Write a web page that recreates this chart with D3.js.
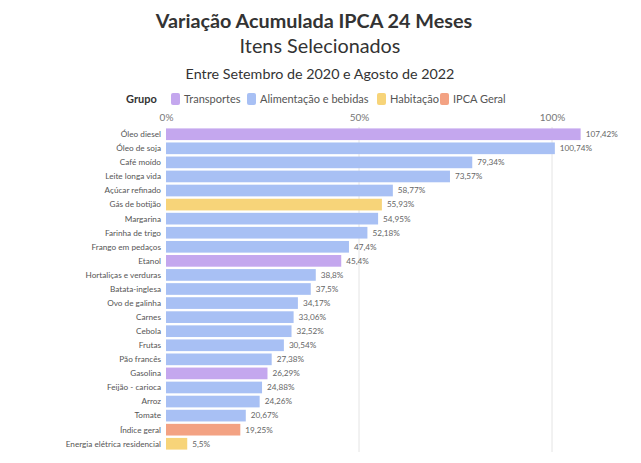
<!DOCTYPE html>
<html><head><meta charset="utf-8">
<script src="https://cdn.jsdelivr.net/npm/d3@7"></script>
<style>body{margin:0;background:#fff;font-family:Lato,"Open Sans",sans-serif}</style>
</head><body><svg id="c" width="641" height="463"></svg>
<script>
const categories = ["Óleo diesel","Óleo de soja","Café moído","Leite longa vida","Açúcar refinado","Gás de botijão","Margarina","Farinha de trigo","Frango em pedaços","Etanol","Hortaliças e verduras","Batata-inglesa","Ovo de galinha","Carnes","Cebola","Frutas","Pão francês","Gasolina","Feijão - carioca","Arroz","Tomate","Índice geral","Energia elétrica residencial"];
const values = [107.42,100.74,79.34,73.57,58.77,55.93,54.95,52.18,47.4,45.4,38.8,37.5,34.17,33.06,32.52,30.54,27.38,26.29,24.88,24.26,20.67,19.25,5.5];
const groups = ["Transportes","Alimentação e bebidas","Alimentação e bebidas","Alimentação e bebidas","Alimentação e bebidas","Habitação","Alimentação e bebidas","Alimentação e bebidas","Alimentação e bebidas","Transportes","Alimentação e bebidas","Alimentação e bebidas","Alimentação e bebidas","Alimentação e bebidas","Alimentação e bebidas","Alimentação e bebidas","Alimentação e bebidas","Transportes","Alimentação e bebidas","Alimentação e bebidas","Alimentação e bebidas","IPCA Geral","Habitação"];
const groupNames = ["Transportes","Alimentação e bebidas","Habitação","IPCA Geral"];
const groupColors = ["#c4a7ee","#a8c0f4","#f7d479","#f3a283"];
const tickValues = [0,50,100];

const svg = d3.select("#c");
const color = d3.scaleOrdinal(groupNames, groupColors);
const x = d3.scaleLinear([0,100],[166,552]);
const y = d3.scaleBand(categories,[127,451]).paddingInner(0.17).paddingOuter(0.1);
const fmt = v => String(v).replace(".", ",") + "%";

svg.append("text").attr("x",314).attr("y",28).attr("text-anchor","middle")
  .attr("font-size",19.8).attr("font-weight",700).attr("fill","#333").text("Variação Acumulada IPCA 24 Meses");
svg.append("text").attr("x",320).attr("y",53).attr("text-anchor","middle")
  .attr("font-size",19.8).attr("fill","#333").text("Itens Selecionados");
svg.append("text").attr("x",320).attr("y",79).attr("text-anchor","middle")
  .attr("font-size",14.3).attr("fill","#333").text("Entre Setembro de 2020 e Agosto de 2022");

// legend
const lg = svg.append("g").attr("font-size",11).attr("fill","#444");
lg.append("text").attr("x",126).attr("y",103).attr("font-weight",700).attr("fill","#333").text("Grupo");
const legX = [171,247,377,440];
groupNames.forEach((g,i)=>{
  lg.append("rect").attr("x",legX[i]).attr("y",93).attr("width",9).attr("height",12).attr("rx",2).attr("fill",color(g));
  lg.append("text").attr("x",legX[i]+13).attr("y",103).attr("fill","#555").text(g);
});

// grid + axis
const ax = svg.append("g").attr("transform","translate(0,125)")
  .call(d3.axisTop(x).tickValues(tickValues).tickFormat(d=>d+"%").tickSize(0));
ax.select(".domain").remove();
ax.selectAll("text").attr("font-size",10).attr("fill","#777").attr("font-family","Lato,sans-serif").attr("dy","-0.1em");
svg.append("g").selectAll("line").data(tickValues.slice(1)).join("line")
  .attr("x1",d=>x(d)).attr("x2",d=>x(d)).attr("y1",127).attr("y2",452)
  .attr("stroke","#e4e4e4").attr("stroke-width",1);

// bars
const rows = categories.map((c,i)=>({c,v:values[i],g:groups[i]}));
svg.append("g").selectAll("rect").data(rows).join("rect")
  .attr("x",x(0)).attr("y",d=>y(d.c)).attr("width",d=>x(d.v)-x(0)).attr("height",y.bandwidth())
  .attr("fill",d=>color(d.g));
svg.append("g").selectAll("text").data(rows).join("text")
  .attr("x",161).attr("y",d=>y(d.c)+y.bandwidth()/2).attr("dy","0.35em").attr("text-anchor","end")
  .attr("font-size",8.2).attr("fill","#555").text(d=>d.c);
svg.append("g").selectAll("text").data(rows).join("text")
  .attr("x",d=>x(d.v)+5).attr("y",d=>y(d.c)+y.bandwidth()/2).attr("dy","0.35em")
  .attr("font-size",8.2).attr("fill","#666").text(d=>fmt(d.v));
</script></body></html>
